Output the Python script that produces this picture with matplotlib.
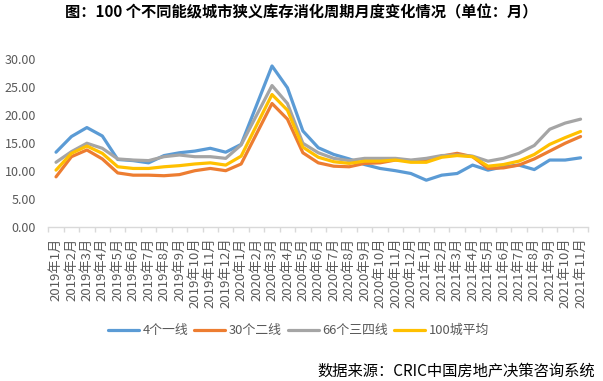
import numpy as np
import matplotlib
matplotlib.use('Agg')
import matplotlib.pyplot as plt
from matplotlib.ticker import FixedLocator, FuncFormatter

plt.rcParams['font.family'] = ['Noto Sans CJK SC', 'DejaVu Sans']

months = [f'{y}年{m}月' for y in (2019, 2020, 2021) for m in range(1, 13)][:35]

tier1 = [13.3, 16.1, 17.7, 16.2, 12.0, 11.8, 11.4, 12.7, 13.2, 13.5, 14.0, 13.3,
         14.7, 21.7, 28.7, 24.8, 17.1, 14.1, 12.9, 12.1, 11.1, 10.4, 10.0, 9.5,
         8.3, 9.2, 9.5, 11.0, 10.1, 10.7, 11.0, 10.2, 11.9, 11.9, 12.3]
tier2 = [8.9, 12.5, 13.7, 12.1, 9.6, 9.2, 9.2, 9.1, 9.3, 10.0, 10.4, 10.0,
         11.2, 16.6, 22.0, 19.2, 13.2, 11.4, 10.8, 10.7, 11.3, 11.4, 11.9, 11.8,
         11.8, 12.6, 13.1, 12.5, 10.4, 10.5, 11.0, 12.1, 13.5, 14.9, 16.1]
tier34 = [11.5, 13.4, 14.9, 14.0, 12.1, 11.9, 11.8, 12.5, 12.8, 12.5, 12.5, 12.2,
          14.6, 19.9, 25.2, 22.0, 14.9, 13.2, 12.2, 11.8, 12.2, 12.2, 12.2, 11.9,
          12.2, 12.7, 12.8, 12.6, 11.7, 12.2, 13.1, 14.5, 17.4, 18.5, 19.2]
avg100 = [10.1, 13.1, 14.4, 13.1, 10.7, 10.4, 10.4, 10.7, 10.9, 11.2, 11.4, 11.0,
          12.6, 18.1, 23.6, 20.8, 14.2, 12.4, 11.6, 11.3, 11.7, 11.7, 11.9, 11.5,
          11.5, 12.4, 12.7, 12.5, 10.8, 11.1, 11.7, 12.9, 14.7, 15.9, 17.0]

series = [
    ('4个一线', tier1, '#5B9BD5'),
    ('30个二线', tier2, '#ED7D31'),
    ('66个三四线', tier34, '#A5A5A5'),
    ('100城平均', avg100, '#FFC000'),
]

fig = plt.figure(figsize=(6.03, 3.81), dpi=100)
ax = fig.add_axes([0.0801, 0.405, 0.8955, 0.441])

x = np.arange(len(months))
for name, vals, color in series:
    ax.plot(x, vals, color=color, linewidth=2.3, label=name,
            solid_capstyle='round', solid_joinstyle='round')

ax.set_xlim(-0.5, len(months) - 0.5)
ax.set_ylim(0, 30)
ax.set_yticks(np.arange(0, 31, 5))
ax.yaxis.set_major_formatter(FuncFormatter(lambda v, p: f'{v:.2f}'))
ax.tick_params(axis='y', length=0, labelsize=9, labelcolor='#595959', pad=9)

# category labels sit between the boundary tick marks, Excel style
ax.set_xticks(x)
ax.set_xticklabels(months, rotation=90, fontsize=9.5, color='#595959')
ax.tick_params(axis='x', which='major', length=0, pad=8)
ax.xaxis.set_minor_locator(FixedLocator(np.arange(-0.5, len(months), 1)))
ax.tick_params(axis='x', which='minor', length=3.5, color='#D9D9D9', width=1)

for s in ('top', 'right', 'left'):
    ax.spines[s].set_visible(False)
ax.spines['bottom'].set_color('#D9D9D9')
ax.spines['bottom'].set_linewidth(1)

fig.text(0.5, 0.966, '图：100 个不同能级城市狭义库存消化周期月度变化情况（单位：月）',
         ha='center', va='center', fontsize=11, fontweight='bold')

fig.legend(loc='center', bbox_to_anchor=(0.495, 1 - 330.7 / 381), ncol=4,
           frameon=False, fontsize=9.3, labelcolor='#595959',
           handlelength=2.4, handletextpad=0.3, columnspacing=0.45)

fig.text(0.987, 1 - 371.5 / 381, '数据来源：CRIC中国房地产决策咨询系统',
         ha='right', va='center', fontsize=11)

fig.savefig('out.png', dpi=100)
